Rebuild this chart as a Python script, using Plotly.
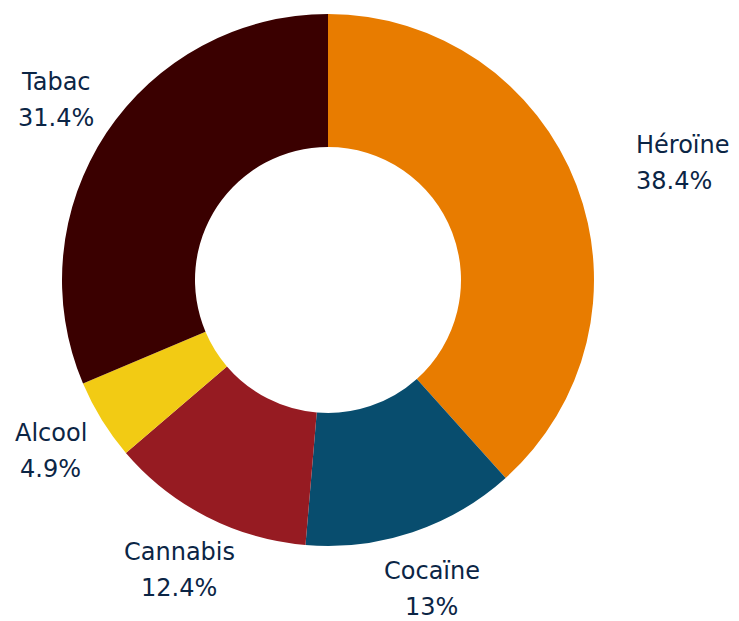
import math
import plotly.graph_objects as go

labels = ["Héroïne", "Cocaïne", "Cannabis", "Alcool", "Tabac"]
values = [38.4, 13, 12.4, 4.9, 31.4]
colors = ["#E87C00", "#084D6E", "#961B22", "#F2CB14", "#3A0000"]
label_align = ["left", "center", "center", "center", "center"]

W, H = 739, 621
cx, cy, r = 328, 280, 266
label_r = 326
font = dict(family="DejaVu Sans", size=24, color="#0B2545")

fig = go.Figure(go.Pie(
    labels=labels,
    values=values,
    hole=0.5,
    sort=False,
    direction="clockwise",
    rotation=0,
    marker=dict(colors=colors, line=dict(width=0)),
    textinfo="none",
    hoverinfo="label+percent",
    showlegend=False,
    automargin=False,
    domain=dict(x=[(cx - r) / W, (cx + r) / W], y=[(H - cy - r) / H, (H - cy + r) / H]),
))

total = sum(values)
cum = 0.0
for lab, v, al in zip(labels, values, label_align):
    mid = (cum + v / 2) / total
    cum += v
    th = 2 * math.pi * mid
    px = cx + label_r * math.sin(th)
    py = cy - label_r * math.cos(th)
    xp, yp = px / W, 1 - py / H
    fig.add_annotation(x=xp, y=yp, xref="paper", yref="paper", text=lab,
                       showarrow=False, xanchor=al, yanchor="bottom",
                       font=font, borderpad=3)
    fig.add_annotation(x=xp, y=yp, xref="paper", yref="paper", text=f"{v:g}%",
                       showarrow=False, xanchor=al, yanchor="top",
                       font=font, borderpad=3)

fig.update_layout(
    width=W, height=H,
    margin=dict(l=0, r=0, t=0, b=0),
    paper_bgcolor="white",
    plot_bgcolor="white",
)
fig.write_html("out.html")
